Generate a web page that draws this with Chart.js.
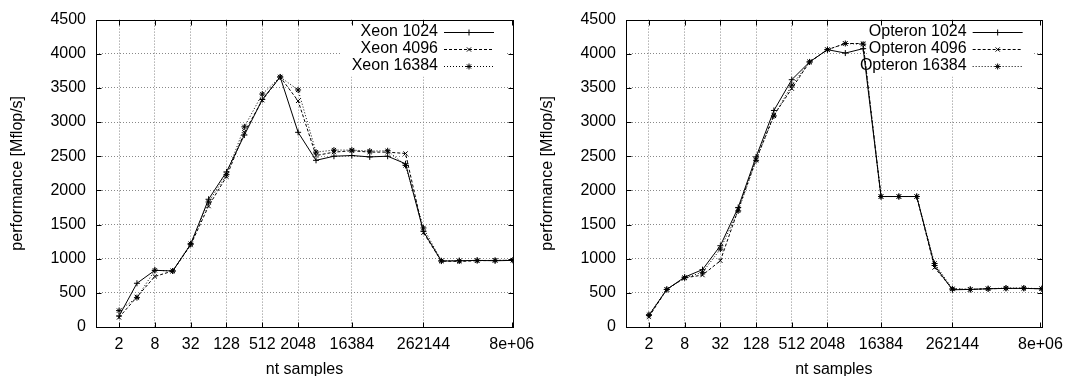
<!DOCTYPE html>
<html>
<head>
<meta charset="utf-8">
<script src="https://cdn.jsdelivr.net/npm/chart.js@4/dist/chart.umd.min.js"></script>
<style>
    html, body { margin: 0; padding: 0; background: #fff; }
    #wrap { position: relative; width: 1071px; height: 376px; overflow: hidden; }
    canvas { position: absolute; top: 0; }
</style>
</head>
<body>
<div id="wrap">
    <canvas id="xeonChart" width="545" height="376" style="left:0px"></canvas>
    <canvas id="opteronChart" width="541" height="376" style="left:530px"></canvas>
</div>
<script>
// ==================== DATA ====================
const ntSamples = [2, 4, 8, 16, 32, 64, 128, 256, 512, 1024, 2048, 4096, 8192,
    16384, 32768, 65536, 131072, 262144, 524288, 1048576, 2097152, 4194304, 8388608];

const xTickValues = [2, 8, 32, 128, 512, 2048, 16384, 262144, 8000000];
const xTickLabels = ['2', '8', '32', '128', '512', '2048', '16384', '262144', '8e+06'];

const xeon1024  = [160, 640, 830, 820, 1210, 1870, 2270, 2810, 3330, 3660, 2850, 2440, 2500, 2510, 2490, 2500, 2390, 1400, 965, 970, 975, 970, 975];
const xeon4096  = [140, 440, 740, 820, 1200, 1770, 2200, 2850, 3320, 3660, 3310, 2510, 2560, 2580, 2560, 2560, 2540, 1380, 965, 960, 970, 975, 975];
const xeon16384 = [240, 430, 830, 820, 1220, 1830, 2230, 2930, 3410, 3660, 3470, 2560, 2590, 2590, 2575, 2580, 2365, 1450, 970, 970, 975, 975, 980];

const opteron1024  = [170, 550, 730, 840, 1190, 1750, 2490, 3170, 3620, 3880, 4060, 4010, 4075, 1910, 1910, 1910, 900, 545, 550, 560, 565, 565, 560];
const opteron4096  = [150, 550, 720, 760, 970, 1720, 2450, 3100, 3490, 3880, 4060, 4150, 4150, 1910, 1910, 1910, 870, 555, 550, 560, 565, 565, 560];
const opteron16384 = [180, 550, 720, 800, 1140, 1700, 2440, 3090, 3540, 3880, 4060, 4150, 4140, 1910, 1910, 1910, 930, 560, 550, 560, 570, 570, 560];

const seriesStyles = [
    { dash: [], point: 'cross' },
    { dash: [3, 2], point: 'crossRot' },
    { dash: [1, 2], point: 'star' }
];

Chart.defaults.font.family = "'Liberation Sans', Arial, sans-serif";
Chart.defaults.font.size = 16;
Chart.defaults.color = '#000';

// gnuplot-like frame with inward ticks
const framePlugin = {
    id: 'frame',
    afterDraw(chart) {
        const { ctx, chartArea: a, scales } = chart;
        ctx.save();
        ctx.strokeStyle = '#000';
        ctx.lineWidth = 1;
        ctx.setLineDash([]);
        const L = Math.round(a.left) + 0.5, R = Math.round(a.right) + 0.5;
        const T = Math.round(a.top) + 0.5, B = Math.round(a.bottom) + 0.5;
        ctx.strokeRect(L, T, R - L, B - T);
        ctx.beginPath();
        scales.y.ticks.forEach(t => {
            const y = Math.round(scales.y.getPixelForValue(t.value)) + 0.5;
            ctx.moveTo(L, y); ctx.lineTo(L + 5, y);
            ctx.moveTo(R, y); ctx.lineTo(R - 5, y);
        });
        xTickValues.forEach(v => {
            const x = Math.round(scales.x.getPixelForValue(v)) + 0.5;
            ctx.moveTo(x, B); ctx.lineTo(x, B - 5);
            ctx.moveTo(x, T); ctx.lineTo(x, T + 5);
        });
        ctx.stroke();
        ctx.restore();
    }
};

// key box in the upper right corner, drawn under the data
const keyPlugin = {
    id: 'key',
    beforeDatasetsDraw(chart) {
        const { ctx, chartArea: a } = chart;
        const r = a.right, t = a.top;
        ctx.save();
        ctx.fillStyle = '#fff';
        ctx.fillRect(r - 173, t + 5, 165, 52);
        ctx.font = "16px 'Liberation Sans', Arial, sans-serif";
        ctx.textAlign = 'right';
        ctx.textBaseline = 'middle';
        chart.data.datasets.forEach((ds, i) => {
            const y = t + 12 + i * 17;
            ctx.fillStyle = '#000';
            ctx.fillText(ds.label, r - 75, y);
            ctx.strokeStyle = '#000';
            ctx.lineWidth = 1;
            ctx.setLineDash(ds.borderDash);
            ctx.beginPath();
            ctx.moveTo(r - 69, Math.round(y) + 0.5);
            ctx.lineTo(r - 19, Math.round(y) + 0.5);
            ctx.stroke();
            ctx.setLineDash([]);
            Chart.helpers.drawPoint(ctx, { pointStyle: ds.pointStyle, radius: 3, borderWidth: 1, rotation: 0 }, r - 44, Math.round(y) + 0.5);
        });
        ctx.restore();
    }
};

function crearGrafica(canvasId, names, series, padRight) {
    const ctx = document.getElementById(canvasId);
    if (!ctx) return;

    new Chart(ctx, {
        type: 'line',
        data: {
            datasets: series.map((vals, i) => ({
                label: names[i],
                data: ntSamples.map((n, k) => ({ x: n, y: vals[k] })),
                borderColor: '#000',
                backgroundColor: '#000',
                borderWidth: 1,
                borderDash: seriesStyles[i].dash,
                pointStyle: seriesStyles[i].point,
                pointRadius: 3,
                pointBorderWidth: 1,
                pointBorderColor: '#000',
                tension: 0,
                fill: false
            }))
        },
        options: {
            responsive: false,
            animation: false,
            events: [],
            layout: { padding: { top: 19, right: padRight, left: 0, bottom: 0 } },
            plugins: {
                legend: { display: false },
                tooltip: { enabled: false }
            },
            scales: {
                x: {
                    type: 'logarithmic',
                    min: 0.82,
                    max: 8388608,
                    afterBuildTicks: function(scale) {
                        scale.ticks = xTickValues.map(v => ({ value: v }));
                    },
                    afterFit: function(scale) { scale.height = 49; },
                    ticks: {
                        autoSkip: false,
                        maxRotation: 0,
                        minRotation: 0,
                        padding: 8,
                        callback: function(value, index) { return xTickLabels[index]; }
                    },
                    grid: {
                        drawTicks: false,
                        color: function(c) { return c.tick && c.tick.value === 8000000 ? 'rgba(0,0,0,0)' : '#888'; }
                    },
                    border: { display: false, dash: [1, 2] },
                    title: { display: true, text: 'nt samples', padding: { top: 0, bottom: -3 } }
                },
                y: {
                    min: 0,
                    max: 4500,
                    afterFit: function(scale) { scale.width = 96; },
                    ticks: {
                        stepSize: 500,
                        padding: 10,
                        callback: function(value) { return String(value); }
                    },
                    grid: {
                        drawTicks: false,
                        color: function(c) {
                            const v = c.tick ? c.tick.value : 0;
                            return (v === 0 || v === 4500) ? 'rgba(0,0,0,0)' : '#888';
                        }
                    },
                    border: { display: false, dash: [1, 2] },
                    title: { display: true, text: 'performance [Mflop/s]', padding: { top: 8, bottom: 0 } }
                }
            }
        },
        plugins: [keyPlugin, framePlugin]
    });
}

crearGrafica('xeonChart', ['Xeon 1024', 'Xeon 4096', 'Xeon 16384'], [xeon1024, xeon4096, xeon16384], 32);
crearGrafica('opteronChart', ['Opteron 1024', 'Opteron 4096', 'Opteron 16384'], [opteron1024, opteron4096, opteron16384], 28);
</script>
</body>
</html>
